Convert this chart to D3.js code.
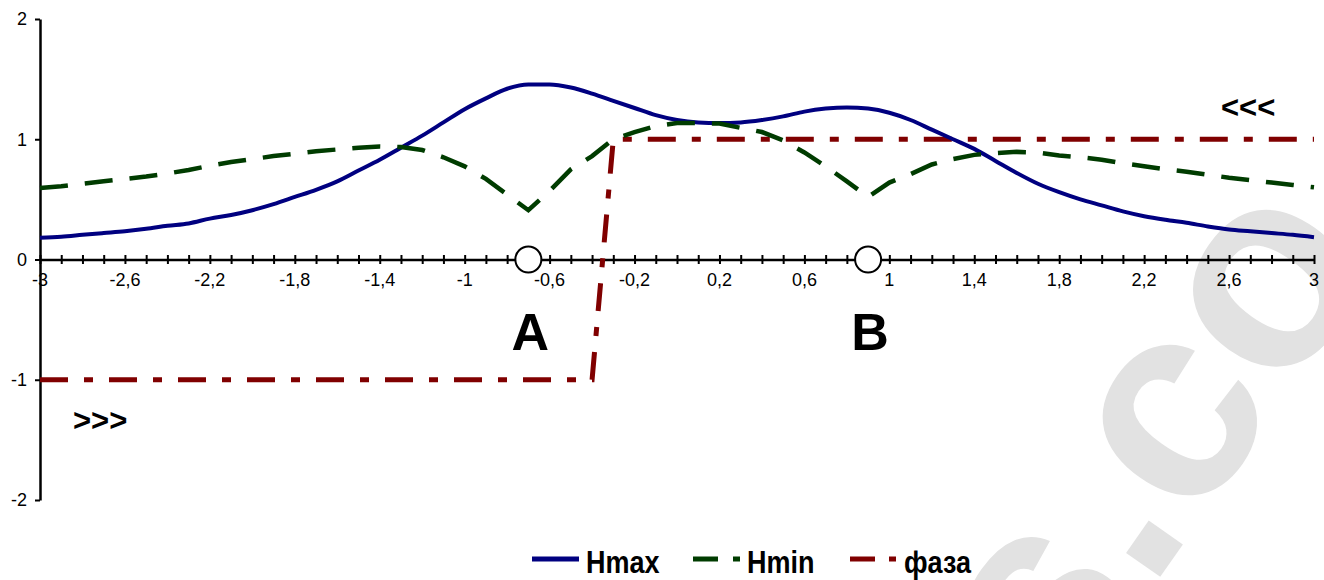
<!DOCTYPE html>
<html>
<head>
<meta charset="utf-8">
<script src="https://cdn.jsdelivr.net/npm/d3@7"></script>
<style>
    body { margin: 0; background: #fff; }
    svg { display: block; font-family: "Liberation Sans", Arial, sans-serif; }
</style>
</head>
<body>
<svg width="1324" height="580"></svg>
<script>
    const w = 1324, h = 580;

    // x grid of the series, step 0.1
    const xVals = [-3, -2.9, -2.8, -2.7, -2.6, -2.5, -2.4, -2.3, -2.2, -2.1,
                   -2, -1.9, -1.8, -1.7, -1.6, -1.5, -1.4, -1.3, -1.2, -1.1,
                   -1, -0.9, -0.8, -0.7, -0.6, -0.5, -0.4, -0.3, -0.2, -0.1,
                   0, 0.1, 0.2, 0.3, 0.4, 0.5, 0.6, 0.7, 0.8, 0.9,
                   1, 1.1, 1.2, 1.3, 1.4, 1.5, 1.6, 1.7, 1.8, 1.9,
                   2, 2.1, 2.2, 2.3, 2.4, 2.5, 2.6, 2.7, 2.8, 2.9, 3];

    const hmax = [0.18, 0.19, 0.205, 0.22, 0.235, 0.255, 0.28, 0.30, 0.34, 0.37,
                  0.41, 0.46, 0.52, 0.58, 0.65, 0.74, 0.83, 0.93, 1.03, 1.14,
                  1.25, 1.34, 1.42, 1.455, 1.455, 1.43, 1.38, 1.32, 1.26, 1.20,
                  1.16, 1.14, 1.135, 1.14, 1.16, 1.19, 1.23, 1.255, 1.265, 1.255,
                  1.22, 1.16, 1.08, 1.0, 0.92, 0.82, 0.72, 0.63, 0.56, 0.50,
                  0.45, 0.40, 0.36, 0.33, 0.305, 0.275, 0.25, 0.235, 0.22, 0.205, 0.185];

    const hmin = [0.595, 0.61, 0.63, 0.65, 0.67, 0.69, 0.715, 0.745, 0.78, 0.81,
                  0.835, 0.86, 0.88, 0.90, 0.915, 0.93, 0.94, 0.935, 0.91, 0.85,
                  0.775, 0.67, 0.54, 0.41, 0.57, 0.75, 0.86, 1.0, 1.06, 1.11,
                  1.135, 1.135, 1.13, 1.095, 1.06, 0.99, 0.89, 0.775, 0.65, 0.52,
                  0.64, 0.71, 0.79, 0.835, 0.87, 0.885, 0.895, 0.89, 0.865, 0.85,
                  0.83, 0.80, 0.775, 0.75, 0.73, 0.705, 0.68, 0.66, 0.64, 0.62, 0.60];

    const phaseX = [-3, -0.4, -0.3, 3];
    const phaseY = [-1, -1, 1, 1];

    const pointX = [-0.7, 0.9];
    const pointNames = ["A", "B"];

    const xLabels = [-3, -2.6, -2.2, -1.8, -1.4, -1, -0.6, -0.2, 0.2, 0.6, 1, 1.4, 1.8, 2.2, 2.6, 3];
    const yTicks = [-2, -1, 0, 1, 2];

    const seriesNames = ["Hmax", "Hmin", "фаза"];
    const seriesColors = ["#000080", "#003c00", "#800000"];

    const scaleX = d3.scaleLinear().domain([-3, 3]).range([40, 1314]);
    const scaleY = d3.scaleLinear().domain([-2, 2]).range([500, 19]);

    const svg = d3.select("svg");
    const comma = d => String(d).replace(".", ",");

    // watermark
    svg.append("text").attr("class", "wm")
            .text("s.co")
            .attr("transform", `translate(${[1060, 720]}) rotate(-55)`)
            .style("font-size", "280px").style("font-weight", "bold")
            .style("fill", "#e2e2e2");

    drawAxes();
    drawLines();
    drawLegend();

    function drawAxes() {
        const minor = d3.range(-30, 31).map(i => i / 10);
        const axisX = d3.axisBottom(scaleX).tickValues(minor)
                .tickSize(0).tickSizeOuter(0).tickFormat("");
        const xG = svg.append("g").attr("class", "x-axis")
                .attr("transform", `translate(${[0, scaleY(0)]})`)
                .call(axisX);
        xG.select(".domain").attr("stroke-width", 2.5);
        xG.selectAll(".tick line").attr("y1", -4.5).attr("y2", 4.5).attr("stroke-width", 2);

        svg.append("g").attr("class", "x-labels")
                .selectAll("text").data(xLabels)
                .join("text")
                .attr("x", d => scaleX(d))
                .attr("y", scaleY(0) + 26)
                .attr("text-anchor", "middle")
                .style("font-size", "18px")
                .text(comma);

        const axisY = d3.axisLeft(scaleY).tickValues(yTicks)
                .tickSize(5).tickSizeOuter(0).tickPadding(8)
                .tickFormat(d => String(d));
        const yG = svg.append("g").attr("class", "y-axis")
                .attr("transform", `translate(${[scaleX(-3), 0]})`)
                .call(axisY);
        yG.select(".domain").attr("stroke-width", 2.5);
        yG.selectAll(".tick line").attr("stroke-width", 2);
        yG.selectAll("text").style("font-size", "18px");
        xG.attr("font-family", null);
        yG.attr("font-family", null);
    }

    function drawLines() {
        const line = d3.line().x(d => scaleX(d[0])).y(d => scaleY(d[1]));

        svg.append("path").attr("class", "phase")
                .attr("d", line(phaseX.map((x, i) => [x, phaseY[i]])))
                .attr("fill", "none").attr("stroke", seriesColors[2])
                .attr("stroke-width", 5).attr("stroke-dasharray", "28,16,9,16");

        svg.append("path").attr("class", "hmax")
                .attr("d", line.curve(d3.curveMonotoneX)(xVals.map((x, i) => [x, hmax[i]])))
                .attr("fill", "none").attr("stroke", seriesColors[0])
                .attr("stroke-width", 4).attr("stroke-linejoin", "round");

        svg.append("path").attr("class", "hmin")
                .attr("d", line.curve(d3.curveLinear)(xVals.map((x, i) => [x, hmin[i]])))
                .attr("fill", "none").attr("stroke", seriesColors[1])
                .attr("stroke-width", 4.5).attr("stroke-dasharray", "28,17");

        svg.selectAll("circle.pt")
                .data(pointX)
                .join("circle").attr("class", "pt")
                .attr("cx", d => scaleX(d)).attr("cy", scaleY(0))
                .attr("r", 13)
                .attr("fill", "#fff").attr("stroke", "#000").attr("stroke-width", 2);

        svg.selectAll("text.pt")
                .data(pointX)
                .join("text").attr("class", "pt")
                .attr("x", d => scaleX(d) + 2).attr("y", 350)
                .attr("text-anchor", "middle")
                .style("font-size", "52px").style("font-weight", "bold")
                .text((d, i) => pointNames[i]);

        svg.append("text").text(">>>")
                .attr("x", 73).attr("y", 431)
                .style("font-size", "31px").style("font-weight", "bold");
        svg.append("text").text("<<<")
                .attr("x", 1221).attr("y", 118)
                .style("font-size", "31px").style("font-weight", "bold");
    }

    function drawLegend() {
        const itemX = [532, 693, 850];
        const dashes = [null, "25,15", "25,14,7,14"];
        const legend = svg.append("g").attr("class", "legend");
        legend.selectAll("g.item")
                .data(seriesNames)
                .join("g").attr("class", "item")
                .each(function(d, i) {
                    const g = d3.select(this);
                    g.append("line")
                            .attr("x1", itemX[i]).attr("x2", itemX[i] + 47)
                            .attr("y1", 559).attr("y2", 559)
                            .attr("stroke", seriesColors[i]).attr("stroke-width", 5)
                            .attr("stroke-dasharray", dashes[i]);
                    g.append("text")
                            .attr("transform", `translate(${[itemX[i] + 54, 573]}) scale(1,1.15)`)
                            .style("font-size", "27px").style("font-weight", "bold")
                            .text(d);
                });
    }
</script>
</body>
</html>
